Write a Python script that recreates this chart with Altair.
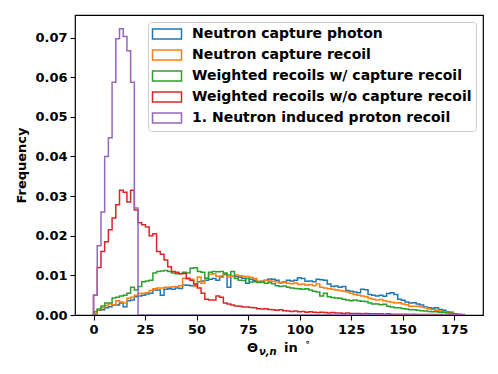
import altair as alt
import pandas as pd
import numpy as np

series_names = [
    "Neutron capture photon",
    "Neutron capture recoil",
    "Weighted recoils w/ capture recoil",
    "Weighted recoils w/o capture recoil",
    "1. Neutron induced proton recoil",
]
series_colors = ["#1f77b4", "#ff7f0e", "#2ca02c", "#d62728", "#9467bd"]

bin_edges = np.linspace(0, 180, 101)

blue_vals = [
    0.0002, 0.0012, 0.0013, 0.0018, 0.0021, 0.0025, 0.0025, 0.0030, 0.0021, 0.0036,
    0.0038, 0.0046, 0.0048, 0.0050, 0.0053, 0.0055, 0.0063, 0.0063, 0.0050, 0.0065,
    0.0066, 0.0065, 0.0068, 0.0067, 0.0076, 0.0075, 0.0074, 0.0075, 0.0084, 0.0086,
    0.0088, 0.0090, 0.0092, 0.0088, 0.0098, 0.0102, 0.0070, 0.0098, 0.0097, 0.0095,
    0.0093, 0.0080, 0.0090, 0.0088, 0.0083, 0.0085, 0.0088, 0.0091, 0.0090, 0.0088,
    0.0082, 0.0083, 0.0088, 0.0086, 0.0088, 0.0094, 0.0092, 0.0085, 0.0086, 0.0084,
    0.0090, 0.0089, 0.0088, 0.0078, 0.0072, 0.0073, 0.0070, 0.0072, 0.0062, 0.0060,
    0.0058, 0.0056, 0.0065, 0.0064, 0.0052, 0.0050, 0.0048, 0.0050, 0.0047, 0.0054,
    0.0056, 0.0052, 0.0040, 0.0037, 0.0033, 0.0030, 0.0031, 0.0028, 0.0025, 0.0020,
    0.0018, 0.0017, 0.0018, 0.0014, 0.0012, 0.0008, 0.0007, 0.0003, 0.0001, 0.0000,
]
orange_vals = [
    0.0004, 0.0013, 0.0018, 0.0024, 0.0028, 0.0025, 0.0036, 0.0033, 0.0030, 0.0042,
    0.0045, 0.0050, 0.0054, 0.0055, 0.0056, 0.0062, 0.0066, 0.0068, 0.0068, 0.0070,
    0.0070, 0.0071, 0.0072, 0.0074, 0.0093, 0.0091, 0.0090, 0.0072, 0.0096, 0.0080,
    0.0093, 0.0103, 0.0104, 0.0098, 0.0095, 0.0105, 0.0095, 0.0098, 0.0101, 0.0099,
    0.0098, 0.0097, 0.0095, 0.0092, 0.0085, 0.0084, 0.0087, 0.0086, 0.0085, 0.0083,
    0.0081, 0.0082, 0.0080, 0.0079, 0.0081, 0.0077, 0.0078, 0.0075, 0.0077, 0.0074,
    0.0078, 0.0070, 0.0068, 0.0066, 0.0065, 0.0063, 0.0062, 0.0060, 0.0058, 0.0055,
    0.0052, 0.0050, 0.0048, 0.0046, 0.0042, 0.0040, 0.0038, 0.0039, 0.0036, 0.0034,
    0.0032, 0.0030, 0.0031, 0.0028, 0.0026, 0.0022, 0.0022, 0.0022, 0.0020, 0.0018,
    0.0015, 0.0014, 0.0012, 0.0010, 0.0008, 0.0007, 0.0005, 0.0003, 0.0001, 0.0000,
]
green_vals = [
    0.0008, 0.0015, 0.0023, 0.0030, 0.0030, 0.0043, 0.0045, 0.0048, 0.0050, 0.0055,
    0.0070, 0.0063, 0.0072, 0.0084, 0.0086, 0.0088, 0.0106, 0.0110, 0.0111, 0.0112,
    0.0110, 0.0106, 0.0104, 0.0105, 0.0108, 0.0106, 0.0118, 0.0119, 0.0110, 0.0108,
    0.0093, 0.0108, 0.0110, 0.0109, 0.0110, 0.0106, 0.0101, 0.0110, 0.0092, 0.0088,
    0.0087, 0.0092, 0.0083, 0.0084, 0.0082, 0.0083, 0.0080, 0.0082, 0.0079, 0.0074,
    0.0072, 0.0073, 0.0070, 0.0068, 0.0067, 0.0066, 0.0065, 0.0066, 0.0063, 0.0060,
    0.0058, 0.0048, 0.0055, 0.0046, 0.0044, 0.0043, 0.0042, 0.0040, 0.0038, 0.0036,
    0.0038, 0.0036, 0.0035, 0.0034, 0.0030, 0.0028, 0.0028, 0.0026, 0.0027, 0.0022,
    0.0020, 0.0018, 0.0018, 0.0016, 0.0015, 0.0013, 0.0013, 0.0012, 0.0011, 0.0010,
    0.0009, 0.0008, 0.0008, 0.0007, 0.0006, 0.0005, 0.0004, 0.0003, 0.0002, 0.0001,
]
red_vals = [
    0.0050, 0.0120, 0.0160, 0.0185, 0.0215, 0.0245, 0.0278, 0.0315, 0.0310, 0.0285,
    0.0315, 0.0265, 0.0233, 0.0228, 0.0222, 0.0200, 0.0205, 0.0160, 0.0153, 0.0139,
    0.0122, 0.0110, 0.0108, 0.0104, 0.0105, 0.0093, 0.0087, 0.0078, 0.0068, 0.0055,
    0.0040, 0.0038, 0.0038, 0.0048, 0.0045, 0.0030, 0.0028, 0.0025, 0.0023, 0.0022,
    0.0020, 0.0020, 0.0019, 0.0018, 0.0016, 0.0015, 0.0016, 0.0014, 0.0013, 0.0012,
    0.0013, 0.0011, 0.0010, 0.0009, 0.0010, 0.0008, 0.0009, 0.0007, 0.0008, 0.0007,
    0.0006, 0.0007, 0.0006, 0.0005, 0.0006, 0.0005, 0.0005, 0.0004, 0.0005, 0.0004,
    0.0004, 0.0004, 0.0003, 0.0004, 0.0003, 0.0003, 0.0003, 0.0003, 0.0002, 0.0003,
    0.0002, 0.0002, 0.0002, 0.0002, 0.0002, 0.0001, 0.0002, 0.0001, 0.0001, 0.0001,
    0.0001, 0.0001, 0.0001, 0.0001, 0.0000, 0.0000, 0.0000, 0.0000, 0.0000, 0.0000,
]
purple_vals = [
    0.0050, 0.0175, 0.0260, 0.0400, 0.0447, 0.0587, 0.0697, 0.0722, 0.0703, 0.0667,
    0.0587, 0.0270,
] + [0.0] * 88

x_ticks = [0, 25, 50, 75, 100, 125, 150, 175]
y_ticks = [0.0, 0.01, 0.02, 0.03, 0.04, 0.05, 0.06, 0.07]

all_vals = [blue_vals, orange_vals, green_vals, red_vals, purple_vals]

rows = []
for name, vals in zip(series_names, all_vals):
    rows.append({"series": name, "order": 0, "x": float(bin_edges[0]), "y": 0.0})
    for i, v in enumerate(vals):
        rows.append({"series": name, "order": i + 1, "x": float(bin_edges[i]), "y": v})
    rows.append({"series": name, "order": 101, "x": float(bin_edges[-1]), "y": vals[-1]})
    rows.append({"series": name, "order": 102, "x": float(bin_edges[-1]), "y": 0.0})
df = pd.DataFrame(rows)

FONT = "DejaVu Sans"

legend_shape = "M-2,-0.7L2,-0.7L2,0.7L-2,0.7Z"

base = alt.Chart(df).mark_line(interpolate="step-after", strokeWidth=1.5, clip=True).encode(
    x=alt.X("x:Q",
            scale=alt.Scale(domain=[-9, 189], nice=False, zero=False),
            axis=alt.Axis(values=x_ticks, title=None, grid=False, format="d")),
    y=alt.Y("y:Q",
            scale=alt.Scale(domain=[0, 0.0757], nice=False),
            axis=alt.Axis(values=y_ticks, format=".2f", title="Frequency", grid=False,
                          titlePadding=6)),
    color=alt.Color("series:N",
                    scale=alt.Scale(domain=series_names, range=series_colors),
                    legend=alt.Legend(
                        title=None, orient="top-right", offset=7,
                        labelFont=FONT, labelFontWeight="bold", labelFontSize=14,
                        labelColor="black", labelLimit=0,
                        symbolType=legend_shape, symbolSize=210,
                        symbolStrokeWidth=1.5, symbolFillColor="transparent",
                        symbolOffset=7, labelOffset=17,
                        fillColor="white", strokeColor="#cccccc", cornerRadius=3,
                        padding=4, rowPadding=3,
                    )),
    order="order:Q",
)

layers = [base.transform_filter(alt.datum.series == n) for n in series_names]

t1 = alt.Chart(pd.DataFrame({"t": ["Θ"]})).mark_text(
    font=FONT, fontWeight="bold", fontSize=13, align="left", baseline="alphabetic", color="black"
).encode(text="t:N", x=alt.value(172), y=alt.value(337))
t2 = alt.Chart(pd.DataFrame({"t": ["ν,n"]})).mark_text(
    font=FONT, fontWeight="bold", fontStyle="italic", fontSize=10, align="left",
    baseline="alphabetic", color="black"
).encode(text="t:N", x=alt.value(184), y=alt.value(340))
t3 = alt.Chart(pd.DataFrame({"t": ["in"]})).mark_text(
    font=FONT, fontWeight="bold", fontSize=13, align="left", baseline="alphabetic", color="black"
).encode(text="t:N", x=alt.value(209), y=alt.value(337))
t4 = alt.Chart(pd.DataFrame({"t": ["∘"]})).mark_text(
    font=FONT, fontWeight="bold", fontSize=9, align="left", baseline="alphabetic", color="black"
).encode(text="t:N", x=alt.value(230), y=alt.value(330))

chart = alt.layer(*layers, t1, t2, t3, t4).properties(
    width=408, height=300,
    autosize=alt.AutoSizeParams(type="none"),
    padding={"left": 67, "top": 7, "right": 7, "bottom": 51},
).configure_view(
    stroke="black", strokeWidth=1.2
).configure_axis(
    domain=False,
    labelFont=FONT, labelFontWeight="bold", labelFontSize=13, labelColor="black",
    titleFont=FONT, titleFontWeight="bold", titleFontSize=13, titleColor="black",
    tickColor="black", tickSize=5, tickWidth=1.1, labelPadding=3,
)

chart.save("out.html", embed_options={"renderer": "svg", "actions": False})
